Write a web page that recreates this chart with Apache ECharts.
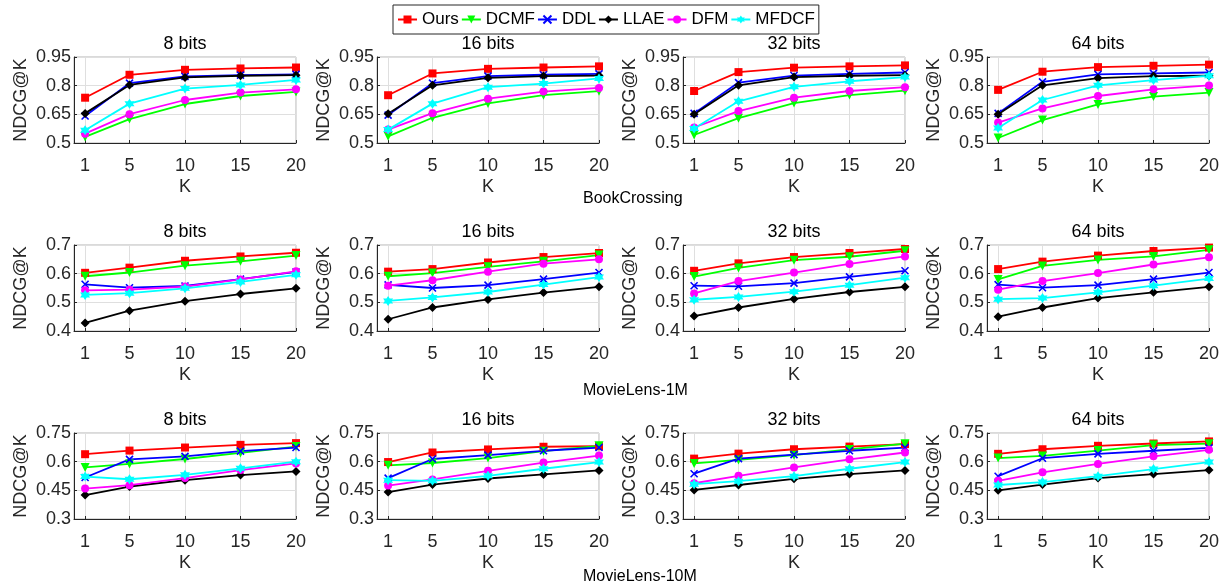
<!DOCTYPE html>
<html>
<head>
<meta charset="utf-8">
<script src="https://cdn.jsdelivr.net/npm/echarts@6/dist/echarts.min.js"></script>
<style>
  html, body { margin: 0; padding: 0; background: #fff; }
  #chart { width: 1226px; height: 588px; }
</style>
</head>
<body>
<div id="chart"></div>
<script>
// x positions (K) and tick labels
var kValues = [1, 5, 10, 15, 20];
var bitTitles = ['8 bits', '16 bits', '32 bits', '64 bits'];
var datasetNames = ['BookCrossing', 'MovieLens-1M', 'MovieLens-10M'];
var methodNames = ['Ours', 'DCMF', 'DDL', 'LLAE', 'DFM', 'MFDCF'];

// y ticks per dataset row
var bookTicks = [0.5, 0.65, 0.8, 0.95];
var ml1mTicks = [0.4, 0.5, 0.6, 0.7];
var ml10mTicks = [0.3, 0.45, 0.6, 0.75];

// BookCrossing: one row per bit length (8, 16, 32, 64)
var bookOurs = [[0.737,0.857,0.883,0.890,0.895],[0.750,0.864,0.888,0.895,0.901],[0.772,0.871,0.894,0.901,0.906],[0.778,0.873,0.897,0.904,0.910]];
var bookDCMF = [[0.532,0.625,0.704,0.746,0.767],[0.535,0.632,0.707,0.750,0.771],[0.542,0.630,0.709,0.751,0.774],[0.526,0.620,0.702,0.743,0.764]];
var bookDDL = [[0.641,0.813,0.848,0.855,0.859],[0.646,0.813,0.850,0.857,0.862],[0.655,0.816,0.853,0.862,0.869],[0.655,0.820,0.859,0.864,0.869]];
var bookLLAE = [[0.655,0.804,0.843,0.852,0.855],[0.653,0.802,0.841,0.850,0.853],[0.650,0.802,0.845,0.852,0.855],[0.651,0.802,0.839,0.850,0.852]];
var bookDFM = [[0.549,0.651,0.725,0.764,0.781],[0.570,0.656,0.732,0.769,0.788],[0.581,0.667,0.737,0.772,0.792],[0.607,0.681,0.746,0.781,0.801]];
var bookMFDCF = [[0.567,0.706,0.785,0.804,0.830],[0.570,0.706,0.792,0.811,0.838],[0.576,0.718,0.794,0.823,0.845],[0.579,0.725,0.802,0.829,0.852]];

// MovieLens-1M
var ml1mOurs = [[0.603,0.621,0.645,0.660,0.673],[0.607,0.616,0.639,0.658,0.672],[0.610,0.636,0.658,0.672,0.686],[0.616,0.642,0.663,0.679,0.691]];
var ml1mDCMF = [[0.591,0.604,0.628,0.643,0.663],[0.591,0.602,0.624,0.643,0.665],[0.590,0.620,0.647,0.659,0.680],[0.580,0.627,0.648,0.660,0.683]];
var ml1mDDL = [[0.563,0.551,0.557,0.581,0.606],[0.561,0.550,0.560,0.581,0.604],[0.558,0.556,0.567,0.589,0.610],[0.562,0.551,0.560,0.581,0.604]];
var ml1mLLAE = [[0.428,0.471,0.504,0.529,0.549],[0.441,0.482,0.510,0.534,0.554],[0.452,0.482,0.512,0.536,0.554],[0.450,0.482,0.515,0.535,0.554]];
var ml1mDFM = [[0.542,0.544,0.555,0.580,0.608],[0.558,0.577,0.607,0.635,0.650],[0.531,0.574,0.604,0.634,0.660],[0.544,0.574,0.602,0.632,0.657]];
var ml1mMFDCF = [[0.526,0.532,0.549,0.571,0.596],[0.505,0.517,0.536,0.562,0.588],[0.509,0.519,0.537,0.560,0.586],[0.511,0.515,0.535,0.558,0.583]];

// MovieLens-10M
var ml10mOurs = [[0.639,0.658,0.674,0.688,0.697],[0.598,0.648,0.664,0.678,0.681],[0.616,0.642,0.665,0.679,0.692],[0.641,0.665,0.683,0.695,0.706]];
var ml10mDCMF = [[0.570,0.588,0.614,0.646,0.679],[0.581,0.593,0.619,0.655,0.683],[0.591,0.609,0.634,0.664,0.694],[0.619,0.630,0.658,0.687,0.694]];
var ml10mDDL = [[0.517,0.612,0.628,0.655,0.674],[0.514,0.614,0.634,0.657,0.674],[0.537,0.616,0.637,0.657,0.674],[0.524,0.618,0.641,0.657,0.672]];
var ml10mLLAE = [[0.425,0.470,0.503,0.530,0.549],[0.441,0.480,0.512,0.533,0.554],[0.452,0.478,0.510,0.535,0.554],[0.450,0.480,0.514,0.535,0.556]];
var ml10mDFM = [[0.459,0.477,0.514,0.556,0.591],[0.475,0.507,0.552,0.595,0.632],[0.487,0.526,0.570,0.612,0.648],[0.500,0.544,0.588,0.628,0.662]];
var ml10mMFDCF = [[0.522,0.508,0.531,0.565,0.600],[0.503,0.500,0.526,0.563,0.598],[0.482,0.498,0.524,0.563,0.598],[0.478,0.493,0.524,0.561,0.598]];

var rows = [
  { ticks: bookTicks, data: [bookOurs, bookDCMF, bookDDL, bookLLAE, bookDFM, bookMFDCF] },
  { ticks: ml1mTicks, data: [ml1mOurs, ml1mDCMF, ml1mDDL, ml1mLLAE, ml1mDFM, ml1mMFDCF] },
  { ticks: ml10mTicks, data: [ml10mOurs, ml10mDCMF, ml10mDDL, ml10mLLAE, ml10mDFM, ml10mMFDCF] }
];

var txt = '#262626';
var font = 'Liberation Sans, Arial, Helvetica, sans-serif';
var hexagram = 'path://M10,0L12.89,5L18.66,5L15.77,10L18.66,15L12.89,15L10,20L7.11,15L1.34,15L4.23,10L1.34,5L7.11,5Z';
var styles = [
  { color: '#ff0000', symbol: 'rect', size: 8 },
  { color: '#00ff00', symbol: 'triangle', size: 9, rotate: 180 },
  { color: '#0000ff', symbol: 'path://M0,0L10,10M10,0L0,10', size: 7, stroke: true },
  { color: '#000000', symbol: 'diamond', size: 9 },
  { color: '#ff00ff', symbol: 'circle', size: 8 },
  { color: '#00ffff', symbol: hexagram, size: 10 }
];

var colLeft = [74, 377, 683, 987];
var rowTop = [57, 245, 433];
var plotW = 222, plotH = 86;
var titleTop = [35, 223, 411];

var grids = [], xAxes = [], yAxes = [], series = [], titles = [];

rows.forEach(function (row, r) {
  var ticks = row.ticks;
  bitTitles.forEach(function (bt, c) {
    var idx = r * 4 + c;
    grids.push({
      left: colLeft[c], top: rowTop[r], width: plotW, height: plotH,
      show: true, borderColor: '#b4b4b4', borderWidth: 1
    });
    xAxes.push({
      type: 'value', gridIndex: idx, min: 0, max: 20,
      name: 'K', nameLocation: 'middle', nameGap: 35,
      nameTextStyle: { color: txt, fontSize: 18, fontFamily: font },
      axisLine: { lineStyle: { color: txt, width: 1 } },
      axisTick: { inside: true, length: 3, customValues: kValues, lineStyle: { color: txt } },
      axisLabel: { customValues: kValues, color: txt, fontSize: 18, fontFamily: font, margin: 14 },
      splitLine: { show: true, lineStyle: { color: '#dfdfdf' } }
    });
    yAxes.push({
      type: 'value', gridIndex: idx, min: ticks[0], max: ticks[ticks.length - 1],
      name: 'NDCG@K', nameLocation: 'middle', nameRotate: 90, nameGap: 44,
      nameTextStyle: { color: txt, fontSize: 18, fontFamily: font },
      axisLine: { show: true, lineStyle: { color: txt, width: 1 } },
      axisTick: { show: true, inside: true, length: 3, customValues: ticks, lineStyle: { color: txt } },
      axisLabel: { customValues: ticks, color: txt, fontSize: 18, fontFamily: font, margin: 3 },
      splitLine: { show: true, lineStyle: { color: '#dfdfdf' } }
    });
    titles.push({
      text: bt, left: colLeft[c] + plotW / 2, top: titleTop[r], textAlign: 'center', padding: 0,
      textStyle: { color: '#000', fontSize: 18, fontWeight: 'normal', fontFamily: font }
    });
    methodNames.forEach(function (m, s) {
      var st = styles[s];
      var vals = row.data[s][c];
      series.push({
        name: m, type: 'line', xAxisIndex: idx, yAxisIndex: idx,
        data: kValues.map(function (k, i) { return [k, vals[i]]; }),
        symbol: st.symbol, symbolSize: st.size, symbolRotate: st.rotate || 0,
        showAllSymbol: true, animation: false,
        lineStyle: { color: st.color, width: 1.8 },
        itemStyle: st.stroke
          ? { color: st.color, borderColor: st.color, borderWidth: 1.6 }
          : { color: st.color, borderColor: st.color, borderWidth: 0 }
      });
    });
  });
});

var datasetTops = [191, 383, 569];
datasetNames.forEach(function (n, r) {
  titles.push({
    text: n, left: 583, top: datasetTops[r], padding: 0,
    textStyle: { color: '#000', fontSize: 16, fontWeight: 'normal', fontFamily: font }
  });
});

var chart = echarts.init(document.getElementById('chart'));
chart.setOption({
  backgroundColor: '#fff',
  animation: false,
  title: titles,
  legend: {
    data: methodNames, left: 393, top: 5,
    backgroundColor: '#fff', borderColor: '#262626', borderWidth: 1,
    padding: [6, 4], itemWidth: 19, itemHeight: 10, itemGap: 2,
    textStyle: { color: '#000', fontSize: 17, fontFamily: font }
  },
  grid: grids,
  xAxis: xAxes,
  yAxis: yAxes,
  series: series
});
</script>
</body>
</html>
